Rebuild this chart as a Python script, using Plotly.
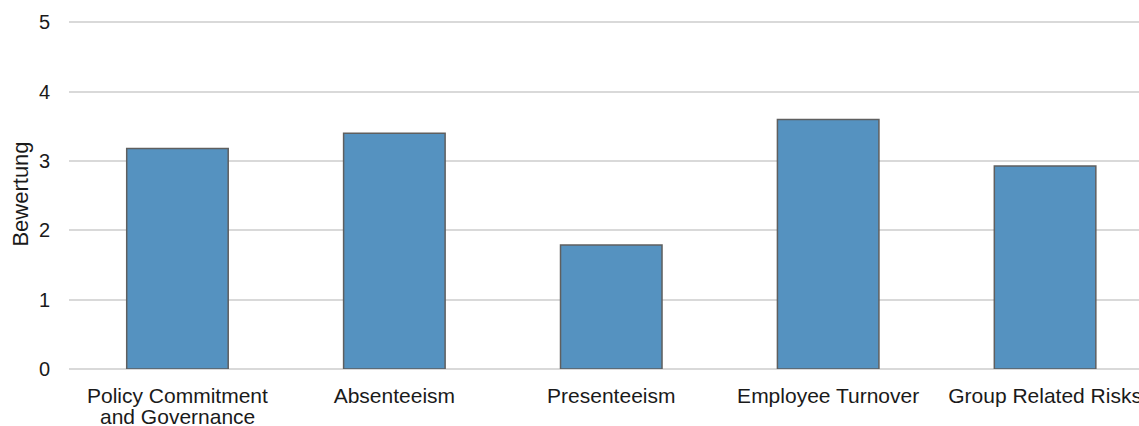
import plotly.graph_objects as go

# Ratings per category (a "\n" marks a line break in the label)
categories = [
    "Policy Commitment\nand Governance",
    "Absenteeism",
    "Presenteeism",
    "Employee Turnover",
    "Group Related Risks",
]
ratings = [3.18, 3.40, 1.79, 3.60, 2.93]
y_ticks = [0, 1, 2, 3, 4, 5]

FONT = "Liberation Sans, Arial, sans-serif"
GRID = "#d9d9d9"
TEXT = "#1a1a1a"
XFONT = 21

first_lines = [c.split("\n")[0] for c in categories]
extra_lines = [c.split("\n")[1:] for c in categories]
xs = list(range(len(categories)))

fig = go.Figure(
    go.Bar(
        x=xs,
        y=ratings,
        width=0.468,
        marker=dict(color="#5592c0", line=dict(color="#5f5f5f", width=1.5)),
        hoverinfo="skip",
    )
)

# further lines of wrapped category labels, set tighter than Plotly's <br> spacing
annotations = []
for i, lines in enumerate(extra_lines):
    for k, line in enumerate(lines):
        annotations.append(
            dict(
                x=xs[i], xref="x",
                y=0, yref="y",
                yshift=-(47 + 20 * k),
                text=line,
                showarrow=False,
                xanchor="center",
                yanchor="middle",
                font=dict(family=FONT, size=XFONT, color=TEXT),
            )
        )

fig.update_layout(
    width=1139,
    height=426,
    margin=dict(l=69, r=0, t=19, b=57),
    paper_bgcolor="white",
    plot_bgcolor="white",
    showlegend=False,
    font=dict(family=FONT, size=20, color=TEXT),
    annotations=annotations,
)

fig.update_xaxes(
    tickmode="array",
    tickvals=xs,
    ticktext=first_lines,
    range=[-0.5, 4.433],
    showgrid=False,
    zeroline=False,
    showline=False,
    ticks="outside",
    ticklen=8,
    tickcolor="rgba(0,0,0,0)",
    tickfont=dict(family=FONT, size=XFONT, color=TEXT),
    ticklabeloverflow="allow",
    automargin=False,
)

fig.update_yaxes(
    range=[0, 5.05],
    tickmode="array",
    tickvals=y_ticks,
    showgrid=True,
    gridcolor=GRID,
    gridwidth=1.5,
    zeroline=True,
    zerolinecolor=GRID,
    zerolinewidth=1.5,
    showline=False,
    ticks="outside",
    ticklen=14,
    tickcolor="rgba(0,0,0,0)",
    tickfont=dict(family=FONT, size=20, color=TEXT),
    title=dict(text="Bewertung", font=dict(family=FONT, size=22, color=TEXT), standoff=4),
    automargin=False,
)

fig.write_html("out.html")
